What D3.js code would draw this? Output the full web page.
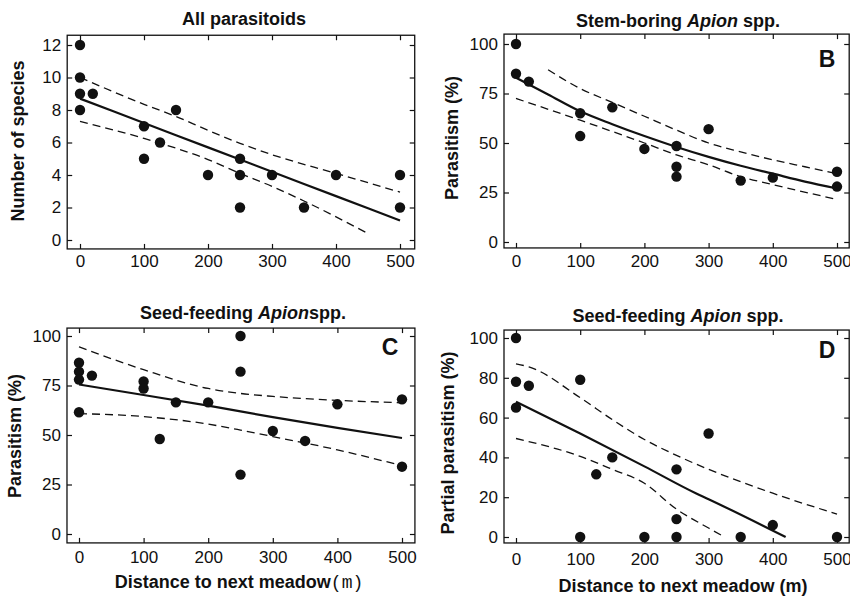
<!DOCTYPE html>
<html>
<head>
<meta charset="utf-8">
<script src="https://cdn.jsdelivr.net/npm/d3@7"></script>
<style>
  body { margin: 0; background: #fff; }
  svg { display: block; }
  text { font-family: "Liberation Sans", Arial, Helvetica, sans-serif; fill: #111; }
</style>
</head>
<body>
<div id="chart"></div>
<script>
// Four panels: parasitoids vs distance to the next meadow.
// Points, fitted curve and dashed confidence bands.

var width = 850,
	height = 596;

var xTicks = [0, 100, 200, 300, 400, 500];

// Panel A - all parasitoids, number of species
var aDist    = [0, 0, 0, 20, 0, 100, 100, 125, 150, 200, 250, 250, 250, 300, 350, 400, 500, 500];
var aSpecies = [12, 10, 9, 9, 8, 7, 5, 6, 8, 4, 5, 4, 2, 4, 2, 4, 4, 2];
var aFitX    = [0, 100, 200, 300, 400, 500];
var aFitY    = [8.7, 7.2, 5.7, 4.2, 2.7, 1.2];
var aUpX     = [0, 100, 150, 200, 250, 300, 400, 500];
var aUpY     = [10.0, 8.35, 7.6, 6.75, 5.95, 5.25, 4.1, 2.95];
var aLoX     = [0, 100, 200, 250, 300, 350, 450];
var aLoY     = [7.3, 6.25, 4.95, 4.1, 3.3, 2.4, 0.4];
var aYTicks  = [0, 2, 4, 6, 8, 10, 12];

// Panel B - stem-boring Apion, parasitism (%)
var bDist = [0, 0, 20, 100, 100, 150, 200, 250, 250, 250, 300, 350, 400, 500, 500];
var bPar  = [100, 85, 81, 65, 53.5, 68, 47, 48.5, 38, 33, 57, 31, 32.5, 35.5, 28];
var bFitX = [0, 50, 100, 150, 200, 250, 300, 350, 400, 450, 500];
var bFitY = [83, 74.5, 66, 59.5, 53.5, 48, 43, 38.5, 34.5, 30.5, 27];
var bUpX  = [50, 100, 150, 200, 250, 300, 350, 400, 450, 500];
var bUpY  = [87, 77.5, 70.5, 63.5, 56.5, 50, 45.5, 41.5, 38, 34.5];
var bLoX  = [0, 100, 200, 250, 300, 350, 400, 500];
var bLoY  = [72.5, 61.5, 50, 44, 39, 33, 29, 21.5];
var bYTicks = [0, 25, 50, 75, 100];

// Panel C - seed-feeding Apion, parasitism (%)
var cDist = [0, 0, 0, 20, 0, 100, 100, 125, 150, 200, 250, 250, 250, 300, 350, 400, 500, 500];
var cPar  = [86.5, 82, 78, 80, 61.5, 77, 73.5, 48, 66.5, 66.5, 100, 82, 30, 52, 47, 65.5, 68, 34];
var cFitX = [0, 100, 200, 300, 400, 500];
var cFitY = [75.5, 70.2, 64.8, 59, 53.6, 48.5];
var cUpX  = [0, 100, 200, 250, 300, 400, 500];
var cUpY  = [94.5, 83, 73.5, 71, 69.5, 67.5, 66.3];
var cLoX  = [0, 100, 200, 250, 300, 400, 500];
var cLoY  = [60.8, 59.3, 55.5, 52.5, 49.2, 42.5, 34.5];
var cYTicks = [0, 25, 50, 75, 100];

// Panel D - seed-feeding Apion, partial parasitism (%)
var dDist = [0, 0, 0, 20, 100, 100, 125, 150, 200, 250, 250, 250, 300, 350, 400, 500];
var dPar  = [100, 78, 65, 76, 79, 0, 31.5, 40, 0, 34, 9, 0, 52, 0, 6, 0];
var dFitX = [0, 100, 200, 280, 300, 420];
var dFitY = [68, 52, 35.5, 22, 19, 0];
var dUpX  = [0, 20, 100, 150, 200, 250, 300, 400, 500];
var dUpY  = [87, 85.5, 70, 59, 49, 41, 34, 22, 11.5];
var dLoX  = [0, 100, 150, 200, 250, 300, 325];
var dLoY  = [49.5, 40.5, 34, 27, 14, 4.5, 0];
var dYTicks = [0, 20, 40, 60, 80, 100];

function zip(xs, ys) {
	return xs.map(function(x, i) { return { x: x, y: ys[i] }; });
}

var svg = d3.select("#chart").append("svg")
	.attr("width", width)
	.attr("height", height);

function drawPanel(p) {
	var x = d3.scaleLinear().domain([0, 500]).range(p.xRange);
	var y = d3.scaleLinear().domain(p.yDomain).range(p.yRange);
	var fx0 = x(p.xPad[0]), fx1 = x(p.xPad[1]);
	var fy0 = y(p.yPad[1]), fy1 = y(p.yPad[0]);
	var g = svg.append("g");

	// frame
	g.append("rect")
		.attr("x", fx0).attr("y", fy0)
		.attr("width", fx1 - fx0).attr("height", fy1 - fy0)
		.style("fill", "none")
		.style("stroke", "#111")
		.style("stroke-width", "1.3px");

	// axes, ticks pointing inward
	var left = g.append("g").attr("transform", "translate(" + fx0 + ",0)")
		.call(d3.axisLeft(y).tickValues(p.yTicks).tickSize(-5).tickPadding(6));
	g.append("g").attr("transform", "translate(" + fx1 + ",0)")
		.call(d3.axisRight(y).tickValues(p.yTicks).tickSize(-5).tickFormat(""));
	var bottom = g.append("g").attr("transform", "translate(0," + fy1 + ")")
		.call(d3.axisBottom(x).tickValues(xTicks).tickSize(-5).tickPadding(p.xPadLabel));
	g.append("g").attr("transform", "translate(0," + fy0 + ")")
		.call(d3.axisTop(x).tickValues(xTicks).tickSize(-5).tickFormat(""));

	g.selectAll(".domain").remove();
	g.selectAll(".tick line").style("stroke", "#111").style("stroke-width", "1.2px");
	g.selectAll(".tick text")
		.style("font-size", "17px")
		.style("font-family", '"Liberation Sans", Arial, sans-serif')
		.style("fill", "#111");

	var line = d3.line()
		.x(function(d) { return x(d.x); })
		.y(function(d) { return y(d.y); })
		.curve(d3.curveMonotoneX);

	// confidence bands
	[p.up, p.lo].forEach(function(band) {
		g.append("path")
			.datum(band)
			.attr("d", line)
			.style("fill", "none")
			.style("stroke", "#111")
			.style("stroke-width", "1.3px")
			.style("stroke-dasharray", "8,5");
	});

	// fitted curve
	g.append("path")
		.datum(p.fit)
		.attr("d", line)
		.style("fill", "none")
		.style("stroke", "#111")
		.style("stroke-width", "2.2px");

	// data points
	g.selectAll("circle.pt")
		.data(p.pts)
		.enter()
			.append("circle")
			.attr("class", "pt")
			.attr("cx", function(d) { return x(d.x); })
			.attr("cy", function(d) { return y(d.y); })
			.attr("r", 5.2)
			.style("fill", "#111");

	// title
	var t = g.append("text")
		.attr("x", p.titleX).attr("y", p.titleY)
		.attr("text-anchor", "middle")
		.style("font-size", "18px")
		.style("font-weight", "bold");
	p.title.forEach(function(part) {
		t.append("tspan")
			.style("font-style", part.italic ? "italic" : "normal")
			.text(part.text);
	});

	// panel letter
	if (p.letter) {
		g.append("text")
			.attr("x", p.letterX).attr("y", p.letterY)
			.attr("text-anchor", "middle")
			.style("font-size", "23px")
			.style("font-weight", "bold")
			.text(p.letter);
	}

	// y axis label
	g.append("text")
		.attr("transform", "translate(" + p.yLabelX + "," + p.yLabelY + ") rotate(-90)")
		.attr("text-anchor", "middle")
		.style("font-size", "18px")
		.style("font-weight", "bold")
		.text(p.yLabel);

	// x axis label
	if (p.xLabel) {
		var xl = g.append("text")
			.attr("x", p.xLabelX).attr("y", p.xLabelY)
			.attr("text-anchor", "middle")
			.style("font-size", "18px")
			.style("font-weight", "bold");
		p.xLabel.forEach(function(part) {
			xl.append("tspan")
				.style("font-family", part.mono ? '"Liberation Mono", "DejaVu Sans Mono", monospace' : null)
				.style("font-weight", part.mono ? "normal" : "bold")
				.text(part.text);
		});
	}
} // drawPanel()

drawPanel({
	xRange: [80, 400], yDomain: [0, 12], yRange: [240, 45],
	xPad: [-20, 523], yPad: [-0.55, 12.6], xPadLabel: 6,
	yTicks: aYTicks,
	pts: zip(aDist, aSpecies), fit: zip(aFitX, aFitY), up: zip(aUpX, aUpY), lo: zip(aLoX, aLoY),
	title: [{ text: "All parasitoids" }], titleX: 244, titleY: 25,
	yLabel: "Number of species", yLabelX: 24, yLabelY: 141
});

drawPanel({
	xRange: [516, 837], yDomain: [0, 100], yRange: [242, 44],
	xPad: [-18.7, 519], yPad: [-3, 105], xPadLabel: 7,
	yTicks: bYTicks,
	pts: zip(bDist, bPar), fit: zip(bFitX, bFitY), up: zip(bUpX, bUpY), lo: zip(bLoX, bLoY),
	title: [{ text: "Stem-boring " }, { text: "Apion", italic: true }, { text: " spp." }], titleX: 678, titleY: 27,
	letter: "B", letterX: 827, letterY: 67,
	yLabel: "Parasitism (%)", yLabelX: 458, yLabelY: 138
});

drawPanel({
	xRange: [79, 402], yDomain: [0, 100], yRange: [534, 336],
	xPad: [-18.6, 520], yPad: [-4.5, 104], xPadLabel: 8,
	yTicks: cYTicks,
	pts: zip(cDist, cPar), fit: zip(cFitX, cFitY), up: zip(cUpX, cUpY), lo: zip(cLoX, cLoY),
	title: [{ text: "Seed-feeding " }, { text: "Apion", italic: true }, { text: "spp." }], titleX: 243, titleY: 319,
	letter: "C", letterX: 390, letterY: 355,
	yLabel: "Parasitism (%)", yLabelX: 21, yLabelY: 436,
	xLabel: [{ text: "Distance to next meadow" }, { text: "(m)", mono: true }], xLabelX: 239, xLabelY: 588
});

drawPanel({
	xRange: [516, 837], yDomain: [0, 100], yRange: [537, 338],
	xPad: [-18.7, 519], yPad: [-3, 104], xPadLabel: 10,
	yTicks: dYTicks,
	pts: zip(dDist, dPar), fit: zip(dFitX, dFitY), up: zip(dUpX, dUpY), lo: zip(dLoX, dLoY),
	title: [{ text: "Seed-feeding " }, { text: "Apion", italic: true }, { text: " spp." }], titleX: 678, titleY: 322,
	letter: "D", letterX: 827, letterY: 358,
	yLabel: "Partial parasitism (%)", yLabelX: 454, yLabelY: 443,
	xLabel: [{ text: "Distance to next meadow (m)" }], xLabelX: 683, xLabelY: 592
});
</script>
</body>
</html>
